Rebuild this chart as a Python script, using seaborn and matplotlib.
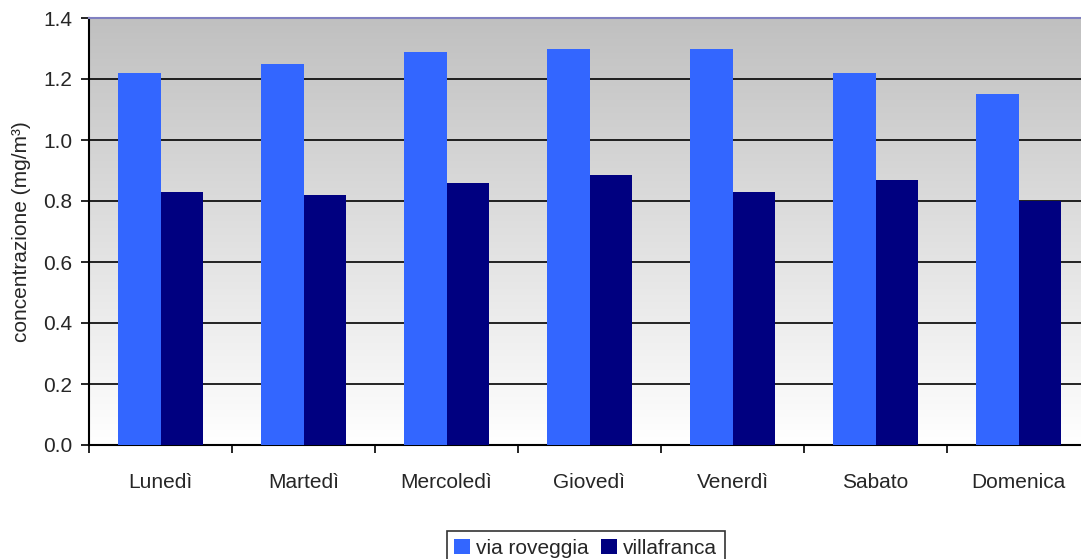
import numpy as np
import pandas as pd
import matplotlib
matplotlib.use("Agg")
import matplotlib.pyplot as plt
import seaborn as sns

days = ["Lunedì", "Martedì", "Mercoledì", "Giovedì", "Venerdì", "Sabato", "Domenica"]
via_roveggia = [1.22, 1.25, 1.29, 1.30, 1.30, 1.22, 1.15]
villafranca = [0.83, 0.82, 0.86, 0.885, 0.83, 0.87, 0.80]
series_names = ["via roveggia", "villafranca"]
series_colors = ["#3366FF", "#000080"]
y_ticks = [0.0, 0.2, 0.4, 0.6, 0.8, 1.0, 1.2, 1.4]

df = pd.DataFrame({
    "giorno": days * 2,
    "valore": via_roveggia + villafranca,
    "stazione": [series_names[0]] * len(days) + [series_names[1]] * len(days),
})

sns.set_theme(style="white")
plt.rcParams["font.family"] = ["Liberation Sans", "DejaVu Sans"]

fs = 15

fig = plt.figure(figsize=(10.81, 5.59), dpi=100)
ax = fig.add_axes([89 / 1081, 1 - 445 / 559, 1001 / 1081, 427 / 559])

# grey-to-white vertical gradient behind the bars
grad = np.linspace(0, 1, 256).reshape(-1, 1)
cmap = matplotlib.colors.LinearSegmentedColormap.from_list("bg", ["#FFFFFF", "#C0C0C0"])
ax.imshow(grad, extent=(-0.5, 6.5, 0, 1.4), origin="lower", aspect="auto",
          cmap=cmap, zorder=0)

sns.barplot(data=df, x="giorno", y="valore", hue="stazione",
            palette=series_colors, width=0.6, saturation=1, ax=ax,
            zorder=3, legend=True, linewidth=0, edgecolor="none")

ax.set_xlim(-0.5, 6.5)
ax.set_ylim(0, 1.4)
ax.set_yticks(y_ticks)
ax.set_yticklabels([f"{v:.1f}" for v in y_ticks])
ax.yaxis.grid(True, color="black", linewidth=1.2, zorder=1)
ax.set_axisbelow(True)
for gl in ax.get_ygridlines():
    gl.set_zorder(1)

ax.set_xlabel("")
ax.set_ylabel("concentrazione (mg/m³)", fontsize=fs, labelpad=9)

ax.set_xticks(np.arange(-0.5, 7.0, 1.0), minor=True)
ax.tick_params(axis="x", which="minor", length=6, width=1.2, color="black", direction="out", bottom=True)
ax.tick_params(axis="x", which="major", length=0, pad=20, labelsize=fs)
ax.tick_params(axis="y", which="major", length=6, width=1.2, color="black", direction="out",
               left=True, labelsize=fs, pad=6)

for side in ["left", "bottom"]:
    ax.spines[side].set_color("black")
    ax.spines[side].set_linewidth(1.5)
ax.spines["top"].set_color("#8080C0")
ax.spines["top"].set_linewidth(1.5)
ax.spines["right"].set_visible(False)

handles, labels = ax.get_legend_handles_labels()
ax.get_legend().remove()
leg = fig.legend(handles, labels, loc="upper center", bbox_to_anchor=(0.542, 0.068),
                 ncol=2, frameon=True, fancybox=False, fontsize=fs,
                 handlelength=0.75, handleheight=0.75, handletextpad=0.3,
                 columnspacing=0.6, borderpad=0.35, edgecolor="black")
leg.get_frame().set_linewidth(1.2)

fig.savefig("out.png", dpi=100)
